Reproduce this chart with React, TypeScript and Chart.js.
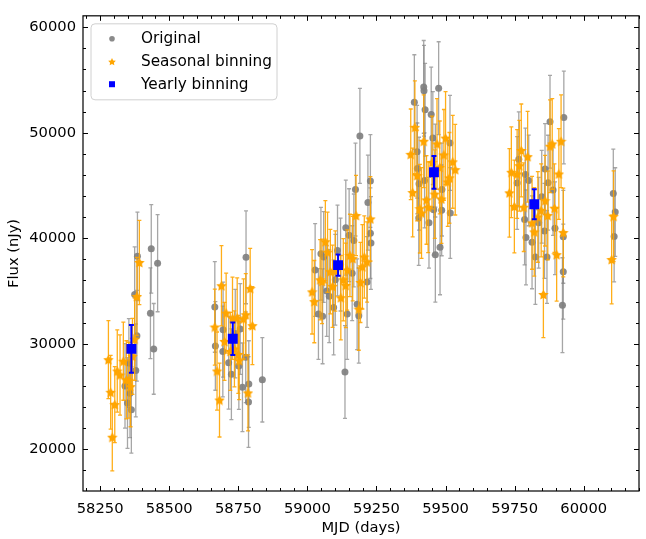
import React, { useEffect, useRef } from 'react';
import { Chart, registerables } from 'chart.js';
Chart.register(...registerables);

// ---------- Data ----------
const origMjd = [
  58340, 58349, 58354, 58358, 58363, 58375, 58379, 58383, 58385, 58432, 58435, 58444, 58458,
  58665, 58667, 58694, 58695, 58715, 58725, 58739, 58752, 58757, 58765, 58777, 58778, 58787, 58788, 58837,
  59028, 59040, 59049, 59055, 59059, 59070, 59079, 59095, 59101, 59109, 59120, 59136, 59139, 59144, 59151, 59162,
  59168, 59174, 59180, 59186, 59190, 59216, 59219, 59228, 59228, 59230,
  59387, 59397, 59398, 59403, 59404, 59421, 59422, 59424, 59426, 59440, 59448, 59454, 59457, 59463, 59463,
  59475, 59480, 59486, 59487, 59516, 59517,
  59759, 59765, 59786, 59789, 59791, 59801, 59813, 59825, 59837, 59848, 59858, 59860, 59867, 59871, 59878,
  59889, 59896, 59923, 59926, 59926, 59928,
  60107, 60110, 60114,
];
const origFlux = [
  26000, 24380, 28180, 25300, 23730, 34670, 27470, 30750, 38280, 32880, 38990, 29510, 37630,
  33490, 29790, 29270, 31330, 28200, 27100, 30960, 27880, 31400, 25870, 28720, 38190, 24480, 26180, 26580,
  36990, 32810, 38530, 32600, 38220, 35000, 34510, 33440, 36060, 38840, 37500, 27320, 41000, 32810, 40290, 36680,
  39790, 44610, 33740, 32660, 49700, 35850, 43380, 45420, 40480, 39550,
  52890, 48200, 46620, 41920, 45170, 54340, 53970, 45480, 52180, 41460, 51720, 49490, 42700, 38440, 46410,
  54220, 39140, 42640, 44610, 49030, 42390,
  45230, 47480, 41780, 46040, 40070, 45480, 39610, 38220, 41460, 43930, 40690, 46560, 38220, 45260, 51040,
  44560, 40940, 33650, 40130, 36830, 51440,
  44240, 40160, 42480,
];
const origErr = [
  4000, 4300, 4200, 4200, 4100, 4500, 4400, 4300, 4200, 4300, 4200, 4300, 4600,
  4300, 4200, 4300, 4500, 4400, 4300, 4200, 4100, 4300, 4200, 4300, 4400, 4300, 4100, 4000,
  4400, 4300, 4400, 4500, 4300, 4300, 4400, 4500, 4300, 4300, 4400, 4400, 4500, 4300, 4400, 4500,
  4400, 4400, 4300, 4500, 4500, 4300, 4500, 4400, 4300, 4400,
  4500, 4400, 4300, 4500, 4400, 4400, 4300, 4500, 4400, 4300, 4500, 4400, 4300, 4500, 4400,
  4400, 4500, 4300, 4400, 4500, 4300,
  4400, 4500, 4300, 4400, 4500, 4300, 4400, 4500, 4300, 4400, 4500, 4300, 4400, 4500, 4400,
  4300, 4400, 4500, 4400, 4500, 4400,
  4200, 4300, 4200,
];

const seasMjd = [
  58280, 58288, 58294, 58303, 58312, 58322, 58334, 58345, 58354, 58360, 58367, 58375, 58383, 58392,
  58665, 58673, 58682, 58689, 58700, 58706, 58721, 58729, 58736, 58746, 58750, 58753, 58769, 58777, 58785, 58793, 58801,
  59017, 59025, 59046, 59053, 59065, 59073, 59083, 59091, 59101, 59121, 59130, 59139, 59144, 59154, 59164, 59176,
  59186, 59192, 59199, 59206, 59216, 59228,
  59374, 59381, 59389, 59397, 59407, 59413, 59421, 59431, 59437, 59451, 59461, 59469, 59479, 59485, 59494, 59500,
  59508, 59514, 59526, 59535,
  59731, 59738, 59749, 59759, 59767, 59774, 59783, 59797, 59813, 59821, 59834, 59846, 59854, 59860, 59870, 59878,
  59886, 59894, 59902, 59910, 59918, 59926,
  60101, 60108,
];
const seasFlux = [
  28490, 25400, 21140, 24230, 27410, 27040, 28340, 26580, 26540, 25930, 28800, 30430, 34480, 37700,
  31580, 27410, 24660, 35500, 30220, 32900, 29270, 32410, 29510, 32440, 28990, 28400, 32350, 32750, 25340, 35230, 31710,
  34920, 33990, 36060, 35900, 39670, 38680, 36830, 35440, 36890, 34360, 36060, 35530, 36990, 38370, 38070, 42150,
  33280, 35810, 37290, 38220, 37750, 41830,
  47950, 44330, 50510, 45940, 42800, 42390, 49190, 43630, 42940, 47180, 44180, 48940, 46710, 43720, 47900, 49490,
  45330, 45720, 47240, 46500,
  44300, 46250, 43010, 46090, 46870, 48320, 42940, 47730, 41460, 40600, 42020, 42640, 34670, 43560, 42150, 48720,
  48940, 42850, 38440, 46090, 49190, 40540,
  37980, 42080,
];
const seasErr = [
  3700, 3500, 3200, 3600, 3900, 3800, 3700, 3700, 3600, 3800, 3600, 3900, 3700, 4000,
  3600, 3700, 3500, 3800, 3700, 3800, 3700, 3900, 3600, 3800, 3700, 3700, 3800, 3900, 3600, 3800, 3700,
  4000, 3900, 3800, 4000, 3900, 3800, 4000, 3900, 3800, 4000, 3900, 4000, 3800, 3900, 4000, 3800,
  3900, 3800, 4000, 3900, 3800, 4000,
  4300, 4200, 4400, 4300, 4200, 4300, 4400, 4200, 4300, 4400, 4200, 4300, 4400, 4200, 4300, 4400,
  4200, 4300, 4400, 4300,
  4200, 4300, 4400, 4200, 4300, 4400, 4200, 4300, 4400, 4200, 4300, 4400, 4100, 4300, 4200, 4400,
  4300, 4200, 4400, 4300, 4400, 4200,
  4200, 4300,
];

const yearMjd = [58363, 58730, 59111, 59458, 59821];
const yearFlux = [29510, 30470, 37450, 46250, 43220];
const yearErr = [2270, 1550, 1000, 1550, 1430];

const xTickValues = [58250, 58500, 58750, 59000, 59250, 59500, 59750, 60000];
const yTickValues = [20000, 30000, 40000, 50000, 60000];
const legendLabels = ['Original', 'Seasonal binning', 'Yearly binning'];

const FONT = 'DejaVu Sans';
const FS = 14.7;
const LFS = 15.3;
const GRAY = 'rgba(128,128,128,0.92)';
const ORANGE = '#FFA500';
const BLUE = '#0000FF';

function drawStarPath(ctx: CanvasRenderingContext2D, cx: number, cy: number, R: number) {
  const r = R * 0.5;
  ctx.beginPath();
  for (let i = 0; i < 10; i++) {
    const rad = i % 2 === 0 ? R : r;
    const a = -Math.PI / 2 + (i * Math.PI) / 5;
    const px = cx + rad * Math.cos(a);
    const py = cy + rad * Math.sin(a);
    if (i === 0) ctx.moveTo(px, py); else ctx.lineTo(px, py);
  }
  ctx.closePath();
}

function makeStar(size: number, color: string) {
  const c = document.createElement('canvas');
  c.width = size;
  c.height = size;
  const g = c.getContext('2d')!;
  drawStarPath(g, size / 2, size / 2 + 0.5, size / 2);
  g.fillStyle = color;
  g.fill();
  return c;
}

const errorBarPlugin = {
  id: 'errbars',
  beforeDatasetDraw(chart: any, args: any) {
    const ds = chart.data.datasets[args.index];
    const errs: number[] = ds.errs;
    if (!errs) return;
    const xs = chart.scales.x, ys = chart.scales.y, a = chart.chartArea;
    const ctx: CanvasRenderingContext2D = chart.ctx;
    ctx.save();
    ctx.beginPath();
    ctx.rect(a.left, a.top, a.right - a.left, a.bottom - a.top);
    ctx.clip();
    ctx.strokeStyle = ds.errColor;
    ctx.lineWidth = ds.errWidth;
    const cap = ds.capHalf;
    ds.data.forEach((p: any, i: number) => {
      const x = xs.getPixelForValue(p.x);
      const y1 = ys.getPixelForValue(p.y - errs[i]);
      const y2 = ys.getPixelForValue(p.y + errs[i]);
      ctx.beginPath();
      ctx.moveTo(x, y1); ctx.lineTo(x, y2);
      ctx.moveTo(x - cap, y1); ctx.lineTo(x + cap, y1);
      ctx.moveTo(x - cap, y2); ctx.lineTo(x + cap, y2);
      ctx.stroke();
    });
    ctx.restore();
  },
};

const framePlugin = {
  id: 'frame',
  afterDraw(chart: any) {
    const ctx: CanvasRenderingContext2D = chart.ctx;
    const a = chart.chartArea;
    const xs = chart.scales.x, ys = chart.scales.y;
    ctx.save();
    ctx.strokeStyle = '#000';
    ctx.lineWidth = 1;
    for (let v = 58200; v <= 60200; v += 50) {
      if (v < xs.min || v > xs.max) continue;
      const x = Math.round(xs.getPixelForValue(v)) + 0.5;
      const len = v % 250 === 0 ? 5 : 3;
      ctx.beginPath();
      ctx.moveTo(x, a.bottom); ctx.lineTo(x, a.bottom - len);
      ctx.moveTo(x, a.top); ctx.lineTo(x, a.top + len);
      ctx.stroke();
    }
    for (let v = 16000; v <= 62000; v += 2000) {
      if (v < ys.min || v > ys.max) continue;
      const y = Math.round(ys.getPixelForValue(v)) + 0.5;
      const len = v % 10000 === 0 ? 5 : 3;
      ctx.beginPath();
      ctx.moveTo(a.left, y); ctx.lineTo(a.left + len, y);
      ctx.moveTo(a.right, y); ctx.lineTo(a.right - len, y);
      ctx.stroke();
    }
    ctx.lineWidth = 1.2;
    ctx.strokeRect(a.left, a.top, a.right - a.left, a.bottom - a.top);

    // legend
    const lx = a.left + 8, ly = a.top + 8, lw = 186, lh = 76;
    const rr = 4;
    ctx.beginPath();
    ctx.moveTo(lx + rr, ly);
    ctx.lineTo(lx + lw - rr, ly);
    ctx.arcTo(lx + lw, ly, lx + lw, ly + rr, rr);
    ctx.lineTo(lx + lw, ly + lh - rr);
    ctx.arcTo(lx + lw, ly + lh, lx + lw - rr, ly + lh, rr);
    ctx.lineTo(lx + rr, ly + lh);
    ctx.arcTo(lx, ly + lh, lx, ly + lh - rr, rr);
    ctx.lineTo(lx, ly + rr);
    ctx.arcTo(lx, ly, lx + rr, ly, rr);
    ctx.closePath();
    ctx.fillStyle = 'rgba(255,255,255,0.8)';
    ctx.fill();
    ctx.strokeStyle = '#d0d0d0';
    ctx.lineWidth = 1;
    ctx.stroke();

    const mx = lx + 21;
    const rows = [ly + 15, ly + 37.7, ly + 60.4];
    ctx.fillStyle = GRAY;
    ctx.beginPath(); ctx.arc(mx, rows[0], 2.8, 0, Math.PI * 2); ctx.fill();
    ctx.fillStyle = ORANGE;
    drawStarPath(ctx, mx, rows[1] + 0.5, 4); ctx.fill();
    ctx.fillStyle = BLUE;
    ctx.fillRect(mx - 3, rows[2] - 3, 6, 6);

    ctx.fillStyle = '#000';
    ctx.font = `${LFS}px "${FONT}"`;
    ctx.textBaseline = 'middle';
    ctx.textAlign = 'left';
    legendLabels.forEach((t, i) => ctx.fillText(t, lx + 50, rows[i] + 0.5));
    ctx.restore();
  },
};

export default function App() {
  const ref = useRef<HTMLCanvasElement>(null);
  useEffect(() => {
    document.body.style.margin = '0';
    const star = makeStar(11, ORANGE);
    const chart = new Chart(ref.current!, {
      type: 'scatter',
      data: {
        datasets: [
          {
            label: legendLabels[0],
            data: origMjd.map((x, i) => ({ x, y: origFlux[i] })),
            errs: origErr,
            errColor: 'rgba(128,128,128,0.7)',
            errWidth: 1.3,
            capHalf: 2,
            pointStyle: 'circle',
            pointRadius: 3.5,
            pointBackgroundColor: GRAY,
            pointBorderWidth: 0,
            order: 3,
          } as any,
          {
            label: legendLabels[1],
            data: seasMjd.map((x, i) => ({ x, y: seasFlux[i] })),
            errs: seasErr,
            errColor: 'rgba(255,165,0,0.9)',
            errWidth: 1.3,
            capHalf: 2,
            pointStyle: star,
            pointRadius: 5.5,
            pointBackgroundColor: ORANGE,
            pointBorderWidth: 0,
            order: 2,
          } as any,
          {
            label: legendLabels[2],
            data: yearMjd.map((x, i) => ({ x, y: yearFlux[i] })),
            errs: yearErr,
            errColor: BLUE,
            errWidth: 2,
            capHalf: 2.5,
            pointStyle: 'rect',
            pointRadius: 7,
            pointBackgroundColor: BLUE,
            pointBorderWidth: 0,
            order: 1,
          } as any,
        ],
      },
      options: {
        animation: false,
        responsive: false,
        devicePixelRatio: 1,
        layout: { padding: { top: 5, right: 1, left: 0, bottom: 0 } },
        plugins: { legend: { display: false }, tooltip: { enabled: false } },
        scales: {
          x: {
            type: 'linear',
            min: 58188,
            max: 60200,
            grid: { display: false, drawTicks: false },
            border: { display: false },
            afterBuildTicks: (s: any) => { s.ticks = xTickValues.map((v) => ({ value: v })); },
            afterFit: (s: any) => { s.height = 48; },
            ticks: {
              includeBounds: false,
              autoSkip: false,
              maxRotation: 0,
              padding: 9,
              color: '#000',
              font: { family: FONT, size: FS },
              callback: (v: any) => String(v),
            },
            title: {
              display: true,
              text: 'MJD (days)',
              color: '#000',
              font: { family: FONT, size: FS },
              padding: { top: 2, bottom: 2 },
            },
          },
          y: {
            type: 'linear',
            min: 16040,
            max: 61080,
            grid: { display: false, drawTicks: false },
            border: { display: false },
            afterBuildTicks: (s: any) => { s.ticks = yTickValues.map((v) => ({ value: v })); },
            afterFit: (s: any) => { s.width = 83; },
            ticks: {
              includeBounds: false,
              autoSkip: false,
              padding: 7,
              color: '#000',
              font: { family: FONT, size: FS },
              callback: (v: any) => String(v),
            },
            title: {
              display: true,
              text: 'Flux (nJy)',
              color: '#000',
              font: { family: FONT, size: FS },
              padding: { top: 5, bottom: 2 },
            },
          },
        },
      } as any,
      plugins: [errorBarPlugin, framePlugin],
    });
    return () => chart.destroy();
  }, []);
  return (
    <div style={{ position: 'absolute', left: 0, top: 0, width: 646, height: 539 }}>
      <canvas ref={ref} width={646} height={539} />
    </div>
  );
}
